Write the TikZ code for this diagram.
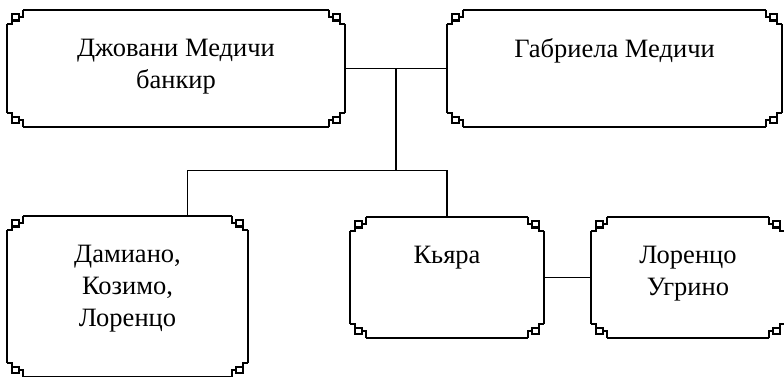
\documentclass[tikz,border=0pt]{standalone}
\usepackage{fontspec}
\setmainfont{Liberation Serif}
\usetikzlibrary{positioning, calc}

\tikzset{
  keyline/.style={line width=2.4pt},
  keycorner/.pic={
    \draw[keyline] (16,0) -- (16,7) -- (12,7)
      (5,4) rectangle (12,10.5)
      (5,10.5) -- (5,14) -- (0,14);
  }
}

% ornamented frame round a named node
\newcommand{\keyframe}[1]{
  \draw[keyline] ([xshift=16pt]#1.north west) -- ([xshift=-16pt]#1.north east)
    ([xshift=16pt]#1.south west) -- ([xshift=-16pt]#1.south east)
    ([yshift=-14pt]#1.north west) -- ([yshift=14pt]#1.south west)
    ([yshift=-14pt]#1.north east) -- ([yshift=14pt]#1.south east);
  \pic[yscale=-1] at (#1.north west) {keycorner};
  \pic[xscale=-1, yscale=-1] at (#1.north east) {keycorner};
  \pic at (#1.south west) {keycorner};
  \pic[xscale=-1] at (#1.south east) {keycorner};
}

\begin{document}
\begin{tikzpicture}[x=1pt, y=1pt,
  kbox/.style={inner sep=0pt},
  ktext/.style={align=center, inner sep=0pt, font=\fontsize{26.5}{32}\selectfont},
  link/.style={line width=1.1pt}
]
  \useasboundingbox (0,0) rectangle (784,376);

  \node[kbox, minimum width=338pt, minimum height=117pt] (giovanni) at (176,307.5) {};
  \node[kbox, minimum width=335pt, minimum height=117pt] (gabriela) at (614.5,307.5) {};
  \node[kbox, minimum width=241pt, minimum height=161pt] (children) at (127.5,79.5) {};
  \node[kbox, minimum width=194pt, minimum height=121pt] (chiara) at (447,98.5) {};
  \node[kbox, minimum width=194pt, minimum height=121pt] (lorenzo) at (688,98.5) {};

  \foreach \n in {giovanni, gabriela, children, chiara, lorenzo}
    \keyframe{\n};

  \node[ktext, below=29pt of giovanni.north] (giovannitext) {Джовани Медичи\\банкир};
  \node[ktext, below=29pt of gabriela.north] (gabrielatext) {Габриела Медичи};
  \node[ktext, below=29pt of children.north] (childrentext) {Дамиано,\\Козимо,\\Лоренцо};
  \node[ktext, below=29pt of chiara.north] (chiaratext) {Кьяра};
  \node[ktext, below=29pt of lorenzo.north] (lorenzotext) {Лоренцо\\Угрино};

  % family lines
  \coordinate (marriage) at ($(giovanni.east)!0.5!(gabriela.west)$);
  \coordinate (kids) at ([xshift=60pt]children.north);
  \draw[link] (giovanni) -- (gabriela);
  \draw[link] (marriage) -- ++(0,-102) coordinate (fork);
  \draw[link] (kids) |- (fork) -| (chiara.north);
  \draw[link] (chiara) -- (lorenzo);
\end{tikzpicture}
\end{document}
